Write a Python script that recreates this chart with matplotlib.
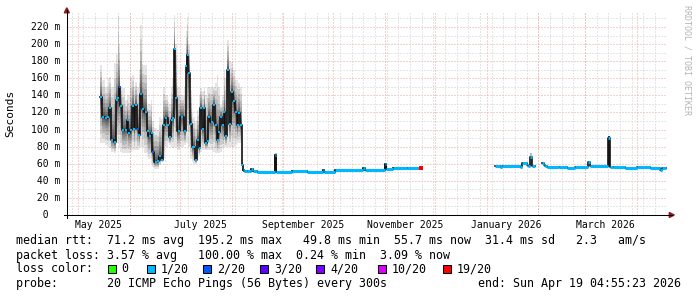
import matplotlib
matplotlib.use("Agg")
import matplotlib.pyplot as plt
import matplotlib.transforms as mtransforms
from matplotlib.patches import Polygon, Rectangle
from matplotlib.lines import Line2D
from datetime import datetime, timedelta

START = datetime(2025, 4, 24, 4, 55, 23)
SPAN_DAYS = 360
Y_TOP = 237.5

# volatile period, x in days since START, values in ms
VOL_DAYS = [19.8, 20.8, 22.8, 24.4, 25.2, 26.4, 28.0, 29.2, 30.4, 31.2,
            32.0, 32.8, 34.8, 35.8, 36.8, 38.0, 38.8, 40.0, 40.8, 42.0,
            43.0, 43.8, 44.8, 46.4, 47.8, 48.8, 50.4, 51.2, 52.4, 54.0,
            55.2, 56.4, 57.6, 58.8, 60.4, 61.2, 62.4, 63.2, 64.2, 64.8,
            66.0, 67.8, 70.0, 71.2, 72.0, 72.8, 73.6, 74.8, 75.8, 76.8,
            78.0, 79.0, 80.0, 80.8, 82.0, 82.8, 84.0, 84.8, 86.0, 87.8,
            88.8, 89.8, 90.8, 91.8, 93.2, 94.0, 94.8, 96.0, 97.2, 98.4,
            99.6, 100.8, 102.0, 102.8, 104.0, 104.8]
VOL_MED = [138, 115, 113, 115, 125, 88, 85, 134, 137, 150,
           127, 99, 100, 111, 96, 100, 127, 101, 129, 101,
           94, 142, 124, 121, 98, 93, 96, 74, 62, 63,
           69, 64, 105, 113, 105, 91, 111, 113, 194, 137,
           98, 115, 98, 174, 187, 166, 107, 80, 80, 64,
           88, 78, 125, 101, 125, 84, 86, 115, 109, 129,
           105, 88, 97, 115, 105, 121, 92, 170, 107, 144,
           133, 121, 105, 119, 105, 59]
VOL_LOW = [84, 84, 82, 80, 78, 74, 72, 84, 84, 80,
           74, 72, 72, 72, 72, 74, 76, 76, 76, 76,
           78, 80, 80, 72, 68, 66, 60, 56, 54, 54,
           58, 62, 67, 80, 84, 82, 80, 78, 80, 80,
           76, 80, 82, 84, 84, 80, 66, 62, 60, 60,
           68, 70, 74, 76, 76, 76, 76, 76, 76, 74,
           72, 72, 72, 74, 78, 80, 80, 80, 80, 80,
           80, 82, 84, 84, 84, 52]
VOL_HIGH = [175, 158, 150, 160, 162, 150, 178, 188, 233, 200,
            150, 148, 135, 140, 140, 160, 164, 150, 156, 150,
            170, 222, 175, 175, 131, 130, 135, 110, 102, 100,
            115, 112, 150, 140, 132, 130, 150, 160, 234, 200,
            150, 140, 150, 215, 232, 200, 146, 120, 115, 110,
            123, 140, 149, 145, 150, 140, 150, 150, 150, 150,
            155, 164, 150, 129, 140, 170, 160, 205, 180, 179,
            170, 158, 158, 155, 150, 62]

# calm periods: step breakpoints (days) and median rtt (ms)
SEG1_DAYS = [105.6, 106.4, 108.0, 110.2, 111.4, 113.8, 124.6, 125.4, 134.8,
             143.8, 153.6, 154.4, 160.6, 177.6, 178.6, 190.6, 191.4, 195.6, 204.0]
SEG1_MED = [52.5, 51.0, 51.8, 53.5, 51.8, 50.2, 70.0, 50.7, 51.4,
            50.0, 53.0, 50.0, 52.4, 54.5, 53.0, 59.7, 54.0, 54.7, 55.5]
SEG2_DAYS = [256.8, 260.0, 260.8, 271.8, 272.8, 275.8, 276.8, 277.8, 278.8]
SEG2_MED = [57.0, 56.0, 57.0, 56.5, 60.5, 59.0, 57.7, 67.5, 57.7]
SEG3_DAYS = [285.2, 286.2, 286.8, 287.8, 295.0, 300.0, 305.0, 312.8, 314.0,
             324.6, 325.8, 327.8, 335.0, 342.0, 349.8, 355.6, 356.8]
SEG3_MED = [61.2, 59.0, 57.0, 55.8, 56.3, 55.5, 56.0, 61.6, 57.7,
            90.0, 56.5, 55.8, 55.3, 55.8, 55.4, 52.7, 55.4]
SEG_ENDS = [213.0, 281.0, 359.6]

# smoke visible on calm periods
SPIKE_DAYS = [124.6, 277.8, 324.6]
SPIKE_LOW = [50.0, 57.0, 56.0]
SPIKE_HIGH = [73.0, 72.0, 92.0]

BLUE_IDX = [9, 19, 27]  # points with 2/20 loss

LOSS_LABELS = ["0", "1/20", "2/20", "3/20", "4/20", "10/20", "19/20"]
LOSS_COLORS = ["#26ff00", "#00b8ff", "#0059ff", "#5e00ff", "#7e00ff", "#dd00ff", "#ff0000"]
LOSS_BOX_X = [107.7, 146.7, 203.3, 260.0, 316.0, 377.7, 442.7]

Y_TICKS = list(range(0, 221, 20))
MONTH_LABELS = [(2025, 5), (2025, 7), (2025, 9), (2025, 11), (2026, 1), (2026, 3)]

LINE_RTT = "median rtt:  71.2 ms avg  195.2 ms max   49.8 ms min  55.7 ms now  31.4 ms sd   2.3   am/s"
LINE_LOSS = "packet loss: 3.57 % avg   100.00 % max  0.24 % min  3.09 % now"
LINE_COLOR = "loss color:"
LINE_PROBE = "probe:       20 ICMP Echo Pings (56 Bytes) every 300s"
LINE_END = "end: Sun Apr 19 04:55:23 2026"

W, H = 697, 297
CYAN = LOSS_COLORS[1]
plt.rcParams["font.family"] = "DejaVu Sans Mono"


def fx(x):
    return x / W


def fy(y):
    return 1 - y / H


def day_of(dt):
    return (dt - START).total_seconds() / 86400.0


fig = plt.figure(figsize=(W / 100, H / 100), dpi=100)
fig.patch.set_facecolor("white")
ax = fig.add_axes([fx(67), fy(215), 600 / W, 203 / H])
ax.set_xlim(0, SPAN_DAYS)
ax.set_ylim(0, Y_TOP)
ax.set_axis_off()

# grid (dotted, rrdtool style)
GRID_MINOR = "#cfcfcf"
GRID_MAJOR = "#eea0a0"
grid_kw = dict(lw=0.72, linestyle=(0, (1, 2)), zorder=1)
for v in range(10, int(Y_TOP), 10):
    ax.axhline(v, color=GRID_MAJOR if v % 20 == 0 else GRID_MINOR, **grid_kw)
d = START.replace(hour=0, minute=0, second=0) + timedelta(days=3)  # first Sunday
while day_of(d) < SPAN_DAYS:
    ax.axvline(day_of(d), color=GRID_MINOR, **grid_kw)
    d += timedelta(days=7)
y, m = 2025, 5
while True:
    dd = day_of(datetime(y, m, 1))
    if dd > SPAN_DAYS:
        break
    ax.axvline(dd, color=GRID_MAJOR, **grid_kw)
    m += 1
    if m > 12:
        y, m = y + 1, 1

# smoke for the volatile period: nested bands, darker towards the median
vx = VOL_DAYS + [SEG1_DAYS[0]]
for f in [1.0, 0.8, 0.62, 0.48, 0.36, 0.27, 0.2, 0.14, 0.09, 0.05]:
    lo = [md - f * (md - l) for md, l in zip(VOL_MED, VOL_LOW)]
    hi = [md + f * (h - md) for md, h in zip(VOL_MED, VOL_HIGH)]
    ax.fill_between(vx, lo + [lo[-1]], hi + [hi[-1]], step="post",
                    color="black", alpha=0.1, lw=0, zorder=2)

# isolated smoke
for sd, sl, sh in zip(SPIKE_DAYS, SPIKE_LOW, SPIKE_HIGH):
    dark = sh - sl > 30
    ax.fill_between([sd, sd + 1.2], [sl, sl], [sh, sh], color="#303030" if dark else "#b8b8b8",
                    lw=0, zorder=2)

# median: black step line, loss colour on the flat parts
x1 = VOL_DAYS + SEG1_DAYS + [SEG_ENDS[0]]
y1 = VOL_MED + SEG1_MED + [SEG1_MED[-1]]
ax.step(x1, y1, where="post", color="#101010", lw=1.2, zorder=3)
for sx, sy, se in [(SEG1_DAYS, SEG1_MED, SEG_ENDS[0]), (SEG2_DAYS, SEG2_MED, SEG_ENDS[1]),
                   (SEG3_DAYS, SEG3_MED, SEG_ENDS[2])]:
    ax.step(sx + [se], sy + [sy[-1]], where="post", color="#101010", lw=1.2, zorder=3)
    ax.hlines(sy, sx, sx[1:] + [se], color=CYAN, lw=2.2, zorder=4)

mids = [(a + b) / 2 for a, b in zip(vx[:-1], vx[1:])]
ax.plot(mids, VOL_MED, "s", ms=2.0, color=CYAN, mew=0, zorder=5)
ax.plot([mids[i] for i in BLUE_IDX], [VOL_MED[i] for i in BLUE_IDX], "s", ms=2.0,
        color=LOSS_COLORS[2], mew=0, zorder=5)
ax.plot([SEG_ENDS[0] - 0.5], [SEG1_MED[-1]], "s", ms=2.4, color=LOSS_COLORS[6], mew=0, zorder=5)

# axes lines and arrows
fig.add_artist(Line2D([fx(64), fx(672)], [fy(215), fy(215)], color="black", lw=0.75))
fig.add_artist(Line2D([fx(67), fx(67)], [fy(218), fy(10)], color="black", lw=0.75))
arrow_c = "#8b1a1a"
fig.add_artist(Polygon([(fx(64.3), fy(12.8)), (fx(69.3), fy(12.8)), (fx(66.8), fy(7.8))],
                       closed=True, color=arrow_c, transform=fig.transFigure))
fig.add_artist(Polygon([(fx(669.3), fy(212.5)), (fx(669.3), fy(217.5)), (fx(674.3), fy(215))],
                       closed=True, color=arrow_c, transform=fig.transFigure))

# y tick labels
ytr = mtransforms.blended_transform_factory(fig.transFigure, ax.transData)
for v in Y_TICKS:
    lab = "  0" if v == 0 else f"{v:3d} m"
    ax.text(fx(30.7), v, lab, transform=ytr, ha="left", va="center", fontsize=7, color="black")

# x tick labels
xtr = mtransforms.blended_transform_factory(ax.transData, fig.transFigure)
for yy, mm in MONTH_LABELS:
    dt = datetime(yy, mm, 1)
    ax.text(day_of(dt) + 12, fy(225), dt.strftime("%B %Y"), transform=xtr,
            ha="center", va="center", fontsize=7, color="black")

fig.text(fx(10.7), fy(113), "Seconds", rotation=90, ha="center", va="center", fontsize=8)
fig.text(fx(687.5), fy(60), "RRDTOOL / TOBI OETIKER", rotation=270, ha="center", va="center",
         fontsize=6, color="#b4b4b4")

# legend
LEG_FS = 8.35
fig.text(fx(16), fy(240.7), LINE_RTT, ha="left", va="center", fontsize=LEG_FS)
fig.text(fx(16), fy(255), LINE_LOSS, ha="left", va="center", fontsize=LEG_FS)
fig.text(fx(16), fy(269), LINE_COLOR, ha="left", va="center", fontsize=LEG_FS)
fig.text(fx(16), fy(283.3), LINE_PROBE, ha="left", va="center", fontsize=LEG_FS)
fig.text(fx(478.3), fy(283.3), LINE_END, ha="left", va="center", fontsize=LEG_FS)
for bx, col, lab in zip(LOSS_BOX_X, LOSS_COLORS, LOSS_LABELS):
    fig.add_artist(Rectangle((fx(bx), fy(273)), 8 / W, 8 / H, facecolor=col, edgecolor="black",
                             lw=0.75, transform=fig.transFigure))
    fig.text(fx(bx + 14), fy(269), lab, ha="left", va="center", fontsize=LEG_FS)

fig.savefig("out.png", dpi=100)
